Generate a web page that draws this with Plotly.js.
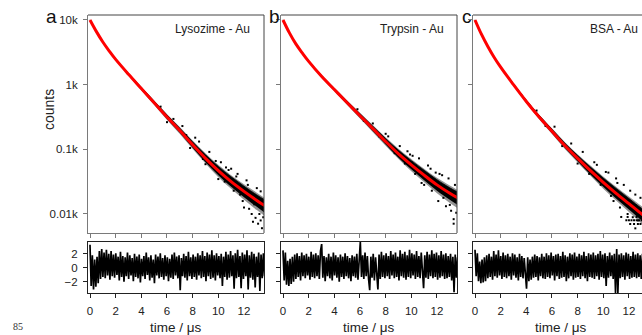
<!DOCTYPE html>
<html>
<head>
<meta charset="utf-8">
<script src="https://cdn.plot.ly/plotly-3.0.1.min.js"></script>
<style>html,body{margin:0;padding:0;background:#fff;overflow:hidden}#chart{width:642px;height:335px}</style>
</head>
<body>
<div id="chart"></div>
<script>
// ---- data (y values are log10 of counts) ----
const fitTime = [0,0.5,1,1.5,2,3,4,5,6,7,8,9,10,11,12,13,13.6];

const fitA = [4.00,3.82,3.66,3.52,3.39,3.16,2.94,2.72,2.50,2.29,2.07,1.86,1.67,1.50,1.35,1.21,1.13];
const upA  = [4.004,3.826,3.668,3.53,3.402,3.178,2.965,2.755,2.545,2.345,2.135,1.94,1.76,1.60,1.46,1.33,1.25];
const loA  = [3.996,3.814,3.652,3.51,3.378,3.142,2.915,2.685,2.455,2.235,2.005,1.78,1.57,1.39,1.22,1.06,0.97];
const coreUpA = [4.003,3.824,3.666,3.528,3.40,3.174,2.96,2.745,2.53,2.325,2.115,1.915,1.735,1.575,1.43,1.295,1.22];
const coreLoA = [3.997,3.816,3.654,3.512,3.38,3.146,2.92,2.695,2.47,2.255,2.025,1.80,1.60,1.42,1.26,1.11,1.02];

const fitB = [4.00,3.80,3.63,3.49,3.36,3.13,2.925,2.72,2.52,2.32,2.12,1.93,1.76,1.60,1.45,1.32,1.25];
const upB  = [4.004,3.806,3.638,3.50,3.372,3.148,2.95,2.755,2.565,2.375,2.185,2.01,1.85,1.70,1.56,1.44,1.37];
const loB  = [3.996,3.794,3.622,3.48,3.348,3.112,2.90,2.685,2.475,2.265,2.055,1.85,1.66,1.49,1.32,1.17,1.09];
const coreUpB = [4.003,3.804,3.636,3.498,3.37,3.144,2.945,2.745,2.55,2.355,2.165,1.985,1.825,1.675,1.53,1.405,1.34];
const coreLoB = [3.997,3.796,3.624,3.482,3.35,3.116,2.905,2.695,2.49,2.285,2.075,1.87,1.69,1.52,1.36,1.22,1.14];

const fitC = [4.00,3.78,3.59,3.42,3.27,3.00,2.74,2.50,2.28,2.06,1.86,1.67,1.49,1.32,1.16,1.00,0.92];
const upC  = [4.004,3.786,3.598,3.43,3.282,3.018,2.765,2.535,2.325,2.115,1.925,1.75,1.58,1.42,1.27,1.12,1.04];
const loC  = [3.996,3.774,3.582,3.41,3.258,2.982,2.715,2.465,2.235,2.005,1.795,1.59,1.39,1.21,1.03,0.85,0.76];
const coreUpC = [4.003,3.784,3.596,3.428,3.28,3.014,2.76,2.525,2.31,2.095,1.905,1.725,1.555,1.395,1.24,1.085,1.01];
const coreLoC = [3.997,3.776,3.584,3.412,3.26,2.986,2.72,2.475,2.25,2.025,1.815,1.61,1.42,1.24,1.07,0.90,0.81];

// scattered data points outside the dense band
const dotsA_t   = [5.5,6.0,6.5,7.2,7.8,8.5,8.8,9.0,9.3,9.6,10.0,10.2,10.5,10.8,11.2,11.5,11.7,11.9,12.2,12.4,12.6,12.8,12.9,13.0,13.2,13.3,13.4,13.5,11.0,12.0,13.1,12.7,9.8,10.6,11.4,12.3,13.3,8.2,7.5];
const dotsA_log = [2.66,2.42,2.47,2.36,2.02,2.12,1.85,1.77,1.96,1.72,1.54,1.80,1.50,1.68,1.36,1.62,1.30,1.20,1.52,1.08,1.00,1.15,0.94,1.40,1.00,0.90,0.78,0.95,1.70,1.10,0.85,0.88,1.82,1.72,1.58,1.45,1.35,2.18,2.22];
const dotsB_t   = [5.8,6.3,7.0,7.5,8.2,8.7,9.1,9.5,9.9,10.3,10.6,11.0,11.3,11.6,11.9,12.1,12.4,12.7,12.9,13.1,13.3,13.3,13.5,10.8,12.5,13.0,9.7,10.1,11.5,12.2,13.4,8.0];
const dotsB_log = [2.62,2.44,2.40,2.20,2.20,1.94,2.05,1.78,1.92,1.62,1.86,1.45,1.75,1.36,1.64,1.20,1.60,1.12,1.55,1.05,0.92,0.85,1.02,1.48,1.25,1.14,1.97,1.90,1.70,1.62,1.45,2.24];
const dotsC_t   = [4.8,5.5,6.2,6.8,7.5,8.0,8.4,8.9,9.3,9.8,10.2,10.6,11.0,11.3,11.6,11.9,12.1,12.3,12.5,12.7,12.9,11.8,12.0,12.2,12.4,12.6,12.8,13.0,12.1,12.4,12.7,12.9,11.4,11.9,12.5,12.6,10.8,9.5,10.4,11.1];
const dotsC_log = [2.60,2.36,2.35,2.05,2.09,1.78,1.96,1.62,1.80,1.45,1.65,1.28,1.55,1.10,1.45,1.00,1.36,0.95,1.30,0.90,1.25,0.903,0.903,0.903,0.903,0.903,0.903,0.903,0.845,0.845,0.845,0.845,0.954,0.954,0.778,0.954,1.20,1.76,1.64,1.48];

// weighted residuals
const resStep = 0.0913;
const resA = [3.3,-2.6,1.8,-3.1,1.2,-2.7,1.6,-2.2,2.4,-1.6, 2.7,-1.3,2.2,-1.5,2.6,-1.1,2.0,-1.7,2.4,-1.2,
  1.9,-1.4,2.1,-1.0,1.6,-1.8,2.3,-1.3,1.7,-2.0, 1.5,-1.2,2.2,-1.6,1.8,-1.1,1.4,-1.9,2.0,-1.3,
  1.6,-1.5,1.9,-2.1,1.3,-1.2,1.7,-1.6,2.2,-1.0, 1.5,-1.8,1.8,-1.4,1.2,-2.2,1.9,-1.1,1.6,-1.5,
  2.1,-1.3,1.4,-1.7,1.8,-1.2,1.5,-1.9,1.3,-1.4, 1.9,-1.6,2.2,-1.1,1.6,-1.5,1.8,-3.2,1.4,-1.2,
  2.0,-1.4,1.7,-1.8,2.3,-1.2,1.5,-1.6,1.9,-1.3, 1.6,-1.7,2.1,-1.1,1.8,-1.5,2.4,-1.3,1.7,-1.9,
  2.2,-1.2,1.9,-1.6,2.5,-1.4,1.8,-1.8,2.1,-1.1, 1.7,-1.5,2.0,-2.6,1.6,-1.3,2.3,-1.7,1.9,-1.4,
  2.4,-1.2,1.8,-3.0,2.1,-1.5,2.6,-1.3,1.7,-2.9, 2.2,-1.6,1.9,-1.2,2.5,-3.1,1.8,-1.4,2.3,-1.7,
  2.0,-2.8,1.6,-1.3,2.2,-3.3,1.9,-1.5,2.1,-1.2];
const resB = [2.5,-1.8,2.2,-2.4,1.0,-2.6,1.3,-2.3,1.6,-2.0, 1.9,-1.6,2.1,-1.3,1.7,-1.8,2.2,-1.2,1.8,-1.5,
  2.0,-1.1,1.6,-1.7,2.3,-1.3,1.9,-1.5,2.1,-1.2, 1.8,-1.6,2.4,3.4,-1.4,1.7,-1.9,1.5,-1.2,2.0,
  -1.5,1.6,-1.8,2.2,-1.1,1.8,-1.4,1.5,-2.0,1.9, -1.3,1.6,-1.6,2.1,-1.2,1.7,-1.5,1.4,-1.9,1.8,
  -1.2,1.6,-1.4,2.0,-1.7,1.5,3.7,-1.3,1.8,-1.6, 2.2,-1.2,1.7,-1.5,-3.2,1.6,-1.4,2.0,-1.8,1.5,
  -1.1,-3.1,1.9,-1.6,2.3,-1.3,1.8,-1.5,2.1,-1.2, 1.7,-1.6,2.4,-1.1,1.9,-1.5,2.2,-1.3,1.6,-1.8,
  2.5,-1.2,2.0,-1.4,2.3,-1.7,1.8,-1.3,2.6,-1.5, 2.1,-1.1,1.9,-1.6,2.4,-1.3,1.7,-1.5,2.2,-1.2,
  -2.9,1.8,-1.4,2.3,-1.6,1.9,-1.2,2.5,-1.5,2.0, -1.3,2.2,-1.7,1.8,-1.4,2.4,-1.2,1.9,-1.6,2.1,
  -1.5,1.7,-1.3,2.0,-1.8,1.6,-3.5,1.9,-1.4,1.5];
const resC = [2.6,-1.2,2.1,-1.9,0.9,-2.2,1.2,-2.1,1.5,-1.9, 1.8,-1.5,2.0,-1.3,1.6,-1.7,2.4,-1.2,1.9,-1.4,
  2.5,-1.1,1.7,-1.6,2.2,-1.3,1.8,-1.5,2.0,-1.2, 1.6,-1.7,2.1,-1.1,1.9,-1.4,1.5,-1.8,2.0,-1.3,
  1.7,-1.5,1.4,-1.6,-3.0,1.5,-1.9,1.2,-1.7,1.6, -1.4,1.9,-1.3,1.7,-1.8,1.5,-1.2,2.0,-1.5,1.6,
  -1.6,2.1,-1.3,1.8,-1.5,2.2,-1.1,1.7,-1.8,1.9, -1.2,2.0,-1.6,1.7,-1.4,2.3,-1.3,1.8,-1.9,1.6,
  -1.5,2.1,-1.2,1.9,-1.7,2.2,-1.4,1.6,-1.3,2.0, -1.6,1.8,-1.2,2.3,-1.5,1.7,-1.9,2.1,-1.3,1.9,
  -1.4,2.2,-1.6,1.8,-1.2,2.0,-1.7,2.4,-1.3,1.9, -1.5,2.1,-2.6,1.7,-1.4,2.2,-1.2,1.8,-1.6,2.0,
  -3.6,2.7,-3.6,1.9,-1.5,2.1,-1.3,1.8,-1.7,2.2, -1.2,2.0,-1.6,1.7,-1.4,2.3,-1.3,1.9,-1.5,2.1,
  -1.3,1.8,-1.6,2.0,-1.2,1.7,-1.5,1.9,-1.4,1.6];

const panelTitles = ['Lysozime - Au','Trypsin - Au','BSA - Au'];
const panelLetters = ['a','b','c'];
const countTickVals = [1,2,3,4];
const countTickText = ['0.01k','0.1k','1k','10k'];
const timeTicks = [0,2,4,6,8,10,12];
const resTicks = [-2,0,2];

// ---- layout helpers ----
const W = 642, H = 335;
const px = v => v / W, py = v => 1 - v / H;
const FONT = 'Liberation Sans, Arial, sans-serif';

const panels = [
  {fit: fitA, up: upA, lo: loA, cu: coreUpA, cl: coreLoA, dt: dotsA_t, dl: dotsA_log, res: resA, left: 88, right: 264, xmax: 13.56},
  {fit: fitB, up: upB, lo: loB, cu: coreUpB, cl: coreLoB, dt: dotsB_t, dl: dotsB_log, res: resB, left: 281, right: 457, xmax: 13.56},
  {fit: fitC, up: upC, lo: loC, cu: coreUpC, cl: coreLoC, dt: dotsC_t, dl: dotsC_log, res: resC, left: 473, right: 642, xmax: 13.02}
];

const traces = [];
const layout = {
  width: W, height: H, margin: {l:0, r:0, t:0, b:0},
  paper_bgcolor: '#fff', plot_bgcolor: '#fff', showlegend: false,
  font: {family: FONT, size: 11.5, color: '#222'},
  annotations: [], shapes: []
};

panels.forEach((p, i) => {
  const nTop = 2*i + 1, nRes = 2*i + 2;
  const xT = 'x' + (nTop === 1 ? '' : nTop), yT = 'y' + (nTop === 1 ? '' : nTop);
  const xR = 'x' + nRes, yR = 'y' + nRes;
  const xd = [px(p.left), Math.min(1, px(p.right))];

  // outer, sparser part of the data band
  traces.push({x: fitTime, y: p.lo, xaxis: xT, yaxis: yT, mode: 'lines', type: 'scatter',
    line: {width: 0, shape: 'spline', color: 'rgba(0,0,0,0)'}, hoverinfo: 'skip'});
  traces.push({x: fitTime, y: p.up, xaxis: xT, yaxis: yT, mode: 'lines', type: 'scatter',
    fill: 'tonexty', fillcolor: 'rgba(0,0,0,0.42)', line: {width: 0, shape: 'spline', color: 'rgba(0,0,0,0)'}, hoverinfo: 'skip'});
  // dense core of the data band
  traces.push({x: fitTime, y: p.cl, xaxis: xT, yaxis: yT, mode: 'lines', type: 'scatter',
    line: {width: 0, shape: 'spline', color: 'rgba(0,0,0,0)'}, hoverinfo: 'skip'});
  traces.push({x: fitTime, y: p.cu, xaxis: xT, yaxis: yT, mode: 'lines', type: 'scatter',
    fill: 'tonexty', fillcolor: '#000', line: {width: 0.8, shape: 'spline', color: '#000'}, hoverinfo: 'skip'});
  // scattered points
  traces.push({x: p.dt, y: p.dl, xaxis: xT, yaxis: yT, mode: 'markers', type: 'scatter',
    marker: {size: 2, color: '#000', symbol: 'square'}});
  // fit
  traces.push({x: fitTime, y: p.fit, xaxis: xT, yaxis: yT, mode: 'lines', type: 'scatter',
    line: {width: 3, shape: 'spline', color: '#ff0000'}});
  // residuals
  traces.push({x: p.res.map((_, k) => k * resStep), y: p.res, xaxis: xR, yaxis: yR, mode: 'lines', type: 'scatter',
    line: {width: 1.7, color: '#000'}});

  const keyXT = 'xaxis' + (nTop === 1 ? '' : nTop), keyYT = 'yaxis' + (nTop === 1 ? '' : nTop);
  layout[keyXT] = {domain: xd, anchor: yT, range: [-0.156, p.xmax], showgrid: false, zeroline: false,
    showline: true, linecolor: '#7a7a7a', linewidth: 1, ticks: 'outside', ticklen: 4, tickcolor: '#7a7a7a',
    tickvals: timeTicks, showticklabels: false};
  layout[keyYT] = {domain: [py(233), py(15)], anchor: xT, range: [0.706, 4.077], showgrid: false, zeroline: false,
    showline: true, linecolor: '#7a7a7a', linewidth: 1, ticks: 'outside', ticklen: 4, tickcolor: '#7a7a7a',
    tickvals: countTickVals, ticktext: countTickText, showticklabels: i === 0, ticklabelstandoff: 3,
    tickfont: {size: 11.5, color: '#222', family: FONT}};
  layout['xaxis' + nRes] = {domain: xd, anchor: yR, range: [-0.156, p.xmax], showgrid: false, zeroline: false,
    showline: true, mirror: true, linecolor: '#222', linewidth: 1, ticks: 'outside', ticklen: 4, tickcolor: '#222',
    tickvals: timeTicks, ticklabelstandoff: 3, tickfont: {size: 11.5, color: '#222', family: FONT}};
  layout['yaxis' + nRes] = {domain: [py(293), py(242)], anchor: xR, range: [-3.6, 3.7], showgrid: false, zeroline: false,
    showline: true, mirror: true, linecolor: '#222', linewidth: 1, ticks: 'outside', ticklen: 4, tickcolor: '#222',
    tickvals: resTicks, showticklabels: i === 0, ticklabelstandoff: 3, tickfont: {size: 11.5, color: '#222', family: FONT}};

  // darker top and right frame of the decay plot
  layout.shapes.push({type: 'line', xref: 'paper', yref: 'paper', x0: px(p.left), x1: Math.min(1, px(p.right)),
    y0: py(15), y1: py(15), line: {color: '#444', width: 1}});
  if (p.right < W) {
    layout.shapes.push({type: 'line', xref: 'paper', yref: 'paper', x0: px(p.right), x1: px(p.right),
      y0: py(233), y1: py(15), line: {color: '#444', width: 1}});
  }

  // panel title
  layout.annotations.push({xref: 'paper', yref: 'paper', x: px([252, 446, 640][i]), y: py(29),
    xanchor: 'right', yanchor: 'middle', showarrow: false, text: panelTitles[i],
    font: {size: 12, color: '#222', family: FONT}});
  // panel letter
  layout.annotations.push({xref: 'paper', yref: 'paper', x: px([51, 274.5, 466.5][i]), y: py(17),
    xanchor: 'center', yanchor: 'middle', showarrow: false, text: panelLetters[i],
    font: {size: 19, color: '#111', family: FONT}});
  // x title
  layout.annotations.push({xref: 'paper', yref: 'paper', x: px((p.left + p.left + 176) / 2), y: py(327),
    xanchor: 'center', yanchor: 'middle', showarrow: false, text: 'time / μs',
    font: {size: 13.5, color: '#222', family: FONT}});
});

layout.annotations.push({xref: 'paper', yref: 'paper', x: px(49), y: py(110), xanchor: 'center', yanchor: 'middle',
  showarrow: false, text: 'counts', textangle: -90, font: {size: 14, color: '#222', family: FONT}});
layout.annotations.push({xref: 'paper', yref: 'paper', x: px(18), y: py(334), xanchor: 'center', yanchor: 'bottom',
  showarrow: false, text: '85', font: {size: 10, color: '#333', family: 'Liberation Serif, serif'}});

Plotly.newPlot('chart', traces, layout, {staticPlot: true, displayModeBar: false});
</script>
</body>
</html>
